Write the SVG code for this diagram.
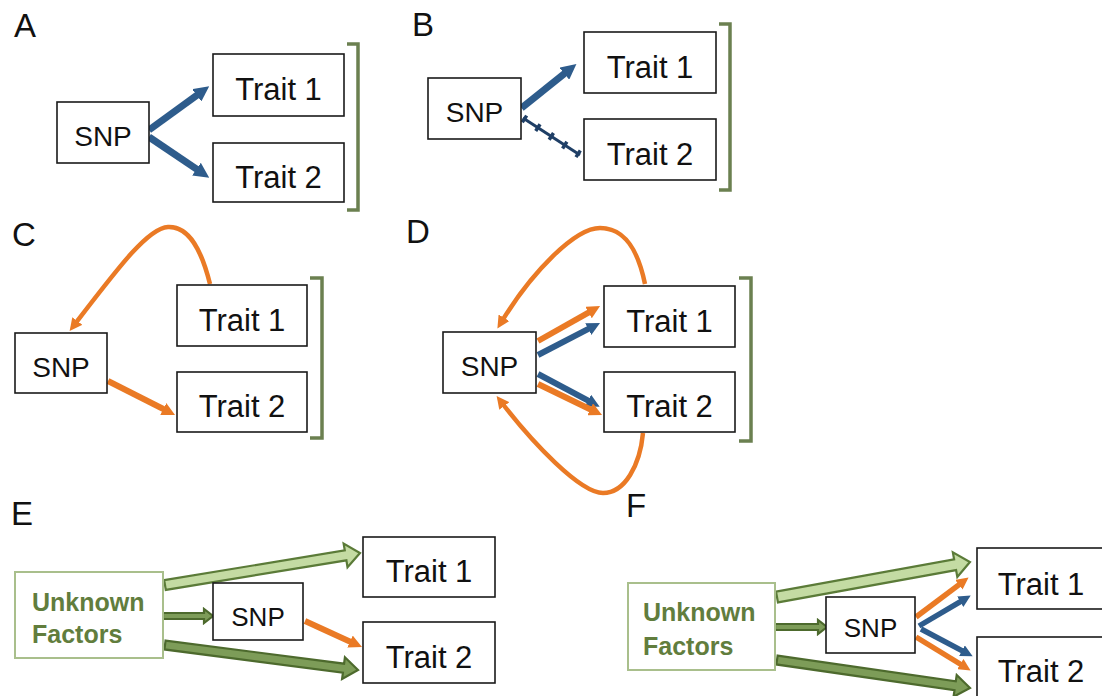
<svg xmlns="http://www.w3.org/2000/svg" width="1102" height="696" viewBox="0 0 1102 696">
  <style>
    .box { fill: #ffffff; stroke: #1a1a1a; stroke-width: 1.6; }
    .ufbox { fill: #ffffff; stroke: #a9bf8c; stroke-width: 2; }
    .lbl { font-family: "Liberation Sans", Arial, sans-serif; font-size: 33px; fill: #111111; }
    .trait { font-family: "Liberation Sans", Arial, sans-serif; font-size: 31px; fill: #111111; text-anchor: middle; }
    .snp { font-family: "Liberation Sans", Arial, sans-serif; font-size: 28px; fill: #111111; text-anchor: middle; }
    .snp-s { font-family: "Liberation Sans", Arial, sans-serif; font-size: 26px; fill: #111111; text-anchor: middle; }
    .uf { font-family: "Liberation Sans", Arial, sans-serif; font-size: 25px; font-weight: bold; fill: #617d3d; }
    .bracket { fill: none; stroke: #6b8050; stroke-width: 3.5; }
    .blue { fill: none; stroke: #2e5c8c; stroke-width: 6; marker-end: url(#hBlue); }
    .orange { fill: none; stroke: #ea7a25; stroke-width: 6; marker-end: url(#hOrange); }
    .loop { fill: none; stroke: #ea7a25; stroke-width: 4.5; marker-end: url(#hLoop); }
    .gLight { fill: #c4dba3; stroke: #5b7b38; stroke-width: 2.2; stroke-linejoin: miter; }
    .gDark { fill: #7d9c58; stroke: #4d6a2d; stroke-width: 2.2; stroke-linejoin: miter; }
  </style>
  <defs>
    <marker id="hBlue" viewBox="0 0 10 10" refX="3" refY="5" markerWidth="2.2" markerHeight="2.2" markerUnits="strokeWidth" orient="auto">
      <path d="M0,0 L10,5 L0,10 z" fill="#2e5c8c"/>
    </marker>
    <marker id="hOrange" viewBox="0 0 10 10" refX="3" refY="5" markerWidth="2.2" markerHeight="2.2" markerUnits="strokeWidth" orient="auto">
      <path d="M0,0 L10,5 L0,10 z" fill="#ea7a25"/>
    </marker>
    <marker id="hLoop" viewBox="0 0 10 10" refX="3" refY="5" markerWidth="2.8" markerHeight="2.8" markerUnits="strokeWidth" orient="auto">
      <path d="M0,0 L10,5 L0,10 z" fill="#ea7a25"/>
    </marker>
  </defs>

  <rect width="1102" height="696" fill="#ffffff"/>

  <!-- panel letters -->
  <g id="panel-labels">
    <text class="lbl" x="14" y="37">A</text>
    <text class="lbl" x="412" y="36">B</text>
    <text class="lbl" x="12" y="246">C</text>
    <text class="lbl" x="406" y="243">D</text>
    <text class="lbl" x="11" y="525">E</text>
    <text class="lbl" x="626" y="517">F</text>
  </g>

  <!-- brackets grouping the two traits -->
  <g id="brackets">
    <path class="bracket" d="M347,44 H358 V210 H347"/>
    <path class="bracket" d="M719,24 H730 V190 H719"/>
    <path class="bracket" d="M310,278 H322 V438 H310"/>
    <path class="bracket" d="M739,278 H751 V441 H739"/>
  </g>

  <!-- connectors -->
  <g id="connectors">
    <!-- A -->
    <line class="blue" x1="149" y1="130" x2="200.5" y2="92.6" style="stroke-width:7"/>
    <line class="blue" x1="149" y1="137" x2="200.3" y2="171.7" style="stroke-width:7"/>
    <!-- B -->
    <line class="blue" x1="521.5" y1="108" x2="568" y2="70.8" style="stroke-width:7"/>
    <line x1="523" y1="118" x2="580" y2="155" stroke="#1f3f66" stroke-width="3"/>
    <line x1="523" y1="118" x2="580" y2="155" stroke="#1f3f66" stroke-width="8" stroke-dasharray="3.5 12.5"/>
    <!-- C -->
    <path class="loop" d="M210,284 C202,252 190,226 168,227 C148,228 118,268 75,324"/>
    <line class="orange" x1="108" y1="381" x2="166.8" y2="410.8"/>
    <!-- D -->
    <path class="loop" d="M645,284 C638,250 625,228 600,228 C575,228 532,272 502,321"/>
    <path class="loop" d="M643,433 C640,465 625,493 603,493 C580,493 532,442 502,403"/>
    <line class="orange" x1="538" y1="341" x2="592" y2="310.6"/>
    <line class="blue" x1="538" y1="355" x2="591.8" y2="327.2"/>
    <line class="blue" x1="538" y1="374" x2="591.5" y2="402.4"/>
    <line class="orange" x1="538" y1="384" x2="593.7" y2="411"/>
    <!-- E -->
    <path class="gLight" transform="translate(165,585) rotate(-9.32)" d="M0,-5 H183 V-12 L197.6,0 L183,12 V5 H0 Z"/>
    <path class="gDark" transform="translate(163,616)" d="M0,-3 H41 V-7 L50,0 L41,7 V3 H0 Z"/>
    <path class="gDark" transform="translate(165,645) rotate(7.38)" d="M0,-4.5 H180 V-11 L194.6,0 L180,11 V4.5 H0 Z"/>
    <line class="orange" x1="305" y1="621" x2="353.6" y2="643.2"/>
    <!-- F -->
    <path class="gLight" transform="translate(777,597) rotate(-10.28)" d="M0,-5.5 H181 V-12.5 L196.1,0 L181,12.5 V5.5 H0 Z"/>
    <path class="gDark" transform="translate(775,627)" d="M0,-3 H43 V-7 L52,0 L43,7 V3 H0Z"/>
    <path class="gDark" transform="translate(777,660) rotate(8.25)" d="M0,-4.5 H180 V-11 L195,0 L180,11 V4.5 H0Z"/>
    <line class="orange" x1="916" y1="617" x2="961.8" y2="582.6" style="stroke-width:5.5"/>
    <line class="orange" x1="916" y1="637" x2="963.4" y2="666" style="stroke-width:5.5"/>
    <line class="blue" x1="919" y1="626" x2="963.4" y2="599.9" style="stroke-width:5.5"/>
    <line class="blue" x1="921" y1="629" x2="965.2" y2="652.4" style="stroke-width:5.5"/>
  </g>

  <!-- Panel A nodes -->
  <g id="a-snp"><rect class="box" x="57" y="102" width="92" height="61"/><text class="snp" x="103" y="146">SNP</text></g>
  <g id="a-trait1"><rect class="box" x="213" y="54" width="131" height="62"/><text class="trait" x="278.5" y="100">Trait 1</text></g>
  <g id="a-trait2"><rect class="box" x="213" y="143" width="131" height="59"/><text class="trait" x="278.5" y="188">Trait 2</text></g>

  <!-- Panel B nodes -->
  <g id="b-snp"><rect class="box" x="428" y="78" width="93" height="61"/><text class="snp" x="474.5" y="122">SNP</text></g>
  <g id="b-trait1"><rect class="box" x="584" y="32" width="132" height="61"/><text class="trait" x="650" y="78">Trait 1</text></g>
  <g id="b-trait2"><rect class="box" x="584" y="119" width="132" height="61"/><text class="trait" x="650" y="165">Trait 2</text></g>

  <!-- Panel C nodes -->
  <g id="c-snp"><rect class="box" x="15" y="333" width="92" height="60"/><text class="snp" x="61" y="377">SNP</text></g>
  <g id="c-trait1"><rect class="box" x="177" y="285" width="130" height="61"/><text class="trait" x="242" y="331">Trait 1</text></g>
  <g id="c-trait2"><rect class="box" x="177" y="372" width="130" height="60"/><text class="trait" x="242" y="417">Trait 2</text></g>

  <!-- Panel D nodes -->
  <g id="d-snp"><rect class="box" x="443" y="332" width="93" height="61"/><text class="snp" x="489.5" y="376">SNP</text></g>
  <g id="d-trait1"><rect class="box" x="604" y="286" width="131" height="61"/><text class="trait" x="669.5" y="332">Trait 1</text></g>
  <g id="d-trait2"><rect class="box" x="604" y="372" width="131" height="60"/><text class="trait" x="669.5" y="417">Trait 2</text></g>

  <!-- Panel E nodes -->
  <g id="e-unknown"><rect class="ufbox" x="15" y="572" width="148" height="86"/><text class="uf" x="32" y="611">Unknown</text><text class="uf" x="32" y="643">Factors</text></g>
  <g id="e-snp"><rect class="box" x="213" y="583" width="90" height="57"/><text class="snp-s" x="258" y="626">SNP</text></g>
  <g id="e-trait1"><rect class="box" x="363" y="537" width="132" height="60"/><text class="trait" x="429" y="582">Trait 1</text></g>
  <g id="e-trait2"><rect class="box" x="363" y="622" width="132" height="61"/><text class="trait" x="429" y="668">Trait 2</text></g>

  <!-- Panel F nodes -->
  <g id="f-unknown"><rect class="ufbox" x="628" y="583" width="147" height="87"/><text class="uf" x="643" y="621">Unknown</text><text class="uf" x="643" y="655">Factors</text></g>
  <g id="f-snp"><rect class="box" x="826" y="597" width="89" height="56"/><text class="snp-s" x="870.5" y="637">SNP</text></g>
  <g id="f-trait1"><rect class="box" x="977" y="548" width="131" height="61"/><text class="trait" x="1041" y="595">Trait 1</text></g>
  <g id="f-trait2"><rect class="box" x="977" y="637" width="131" height="62"/><text class="trait" x="1041" y="682">Trait 2</text></g>
</svg>
